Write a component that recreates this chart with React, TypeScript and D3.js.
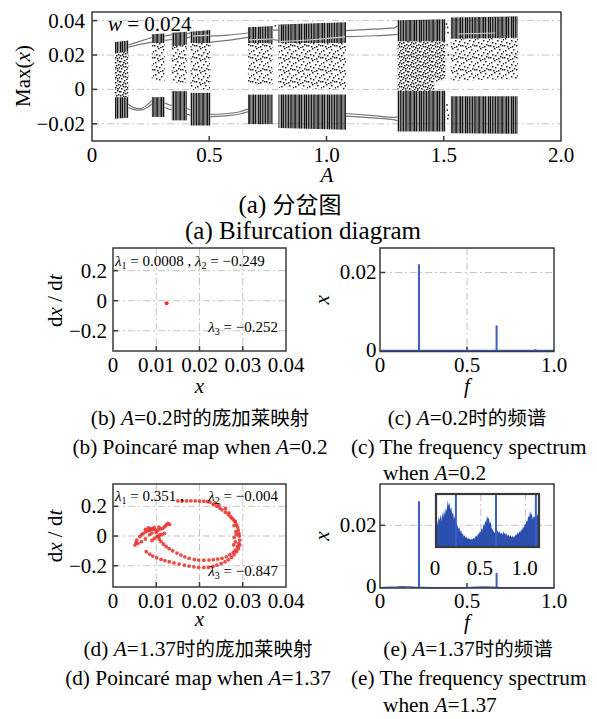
import React from "react";
import * as d3 from "d3";

// ---------------- (a) bifurcation diagram ----------------
const aTickVals = [0, 0.5, 1.0, 1.5, 2.0];
const aTickLabels = ["0", "0.5", "1.0", "1.5", "2.0"];
const aYVals = [0.04, 0.02, 0, -0.02];
const aYLabels = ["0.04", "0.02", "0", "\u22120.02"];

// chaotic windows, each point: [A, low, high]
const bandUpper = [
  [[0.098, 0.021, 0.0275], [0.155, 0.022, 0.0285]],
  [[0.255, 0.027, 0.032], [0.31, 0.027, 0.0325]],
  [[0.34, 0.025, 0.033], [0.404, 0.026, 0.0335]],
  [[0.42, 0.027, 0.0335], [0.505, 0.027, 0.0345]],
  [[0.665, 0.027, 0.0362], [0.77, 0.027, 0.0368]],
  [[0.795, 0.027, 0.0378], [1.083, 0.027, 0.039]],
  [[1.303, 0.028, 0.0402], [1.507, 0.028, 0.0408]],
  [[1.53, 0.0295, 0.0418], [1.816, 0.03, 0.0425]],
];
const bandLower = [
  [[0.098, -0.017, -0.0045], [0.155, -0.0165, -0.0045]],
  [[0.255, -0.016, -0.0045], [0.31, -0.016, -0.0045]],
  [[0.34, -0.018, -0.001], [0.404, -0.018, -0.001]],
  [[0.42, -0.021, -0.002], [0.505, -0.021, -0.002]],
  [[0.665, -0.0202, -0.003], [0.77, -0.0202, -0.003]],
  [[0.795, -0.0225, -0.003], [1.083, -0.0235, -0.003]],
  [[1.303, -0.0245, -0.0008], [1.507, -0.0245, -0.0008]],
  [[1.53, -0.0255, -0.004], [1.816, -0.0258, -0.004]],
];
const bandMidSparse = [
  [[0.255, 0.005, 0.027], [0.31, 0.005, 0.027]],
  [[0.34, 0.004, 0.025], [0.404, 0.004, 0.026]],
  [[0.42, 0.0, 0.027], [0.505, 0.0, 0.027]],
  [[0.665, 0.003, 0.027], [0.77, 0.003, 0.027]],
  [[0.795, 0.001, 0.027], [1.083, 0.0, 0.027]],
  [[1.53, 0.005, 0.0295], [1.816, 0.006, 0.03]],
];
const bandMidDense = [
  [[0.098, -0.0045, 0.021], [0.155, -0.0045, 0.022]],
  [[1.303, -0.0008, 0.028], [1.46, -0.0008, 0.028]],
  [[1.46, 0.004, 0.028], [1.507, 0.006, 0.028]],
];
const periodicBranches = [
  [[0.155, 0.0245], [0.2, 0.026], [0.255, 0.0275]],
  [[0.155, 0.0258], [0.2, 0.0278], [0.255, 0.0302]],
  [[0.155, -0.0085], [0.176, -0.0106], [0.205, -0.0112], [0.233, -0.0093], [0.255, -0.0064]],
  [[0.155, -0.0105], [0.18, -0.0118], [0.205, -0.0121], [0.233, -0.0108], [0.255, -0.0085]],
  [[0.31, 0.0285], [0.34, 0.029]],
  [[0.31, 0.031], [0.34, 0.0318]],
  [[0.31, -0.008], [0.34, -0.0095]],
  [[0.31, -0.0105], [0.34, -0.012]],
  [[0.404, 0.0298], [0.42, 0.0305]],
  [[0.404, 0.0322], [0.42, 0.033]],
  [[0.404, -0.011], [0.42, -0.012]],
  [[0.404, -0.0145], [0.42, -0.015]],
  [[0.505, 0.031], [0.58, 0.0316], [0.665, 0.0328]],
  [[0.505, 0.0275], [0.58, 0.0285], [0.665, 0.0302]],
  [[0.505, -0.0145], [0.58, -0.014], [0.63, -0.013], [0.665, -0.0115]],
  [[0.505, -0.0158], [0.58, -0.0152], [0.63, -0.0143], [0.665, -0.013]],
  [[0.77, 0.0345], [0.795, 0.0345]],
  [[0.77, 0.029], [0.795, 0.0285]],
  [[1.083, 0.0342], [1.2, 0.035], [1.29, 0.0358], [1.303, 0.037]],
  [[1.083, 0.0307], [1.2, 0.0312], [1.29, 0.0318], [1.303, 0.032]],
  [[1.083, -0.014], [1.2, -0.0152], [1.29, -0.0163], [1.303, -0.016]],
  [[1.083, -0.0155], [1.2, -0.0166], [1.29, -0.0177], [1.303, -0.0182]],
];
const faintBranches = [
  [[0.8, 0.0278], [0.95, 0.029], [1.08, 0.0305]],
  [[0.67, 0.0288], [0.77, 0.0293]],
  [[1.56, 0.0322], [1.72, 0.0328]],
  [[0.43, 0.031], [0.5, 0.0315]],
];
const gapPoints = [
  [1.512, 0.038], [1.516, 0.036], [1.518, 0.033], [1.515, 0.026], [1.52, 0.02],
  [1.515, -0.012], [1.52, -0.015], [1.517, -0.017], [1.514, -0.009], [0.782, 0.037],
];

// ---------------- (b) Poincaré map, A = 0.2 ----------------
const bdTickVals = [0, 0.01, 0.02, 0.03, 0.04];
const bdTickLabels = ["0", "0.01", "0.02", "0.03", "0.04"];
const bdYVals = [0.2, 0, -0.2];
const bdYLabels = ["0.2", "0", "\u22120.2"];
const bPoints = [[0.0124, -0.017]];
const bLambda = ["0.0008", "\u22120.249", "\u22120.252"];

// ---------------- (c) spectrum, A = 0.2 ----------------
const ceTickVals = [0, 0.5, 1.0];
const ceTickLabels = ["0", "0.5", "1.0"];
const cPeakF = [0.224, 0.67, 0.893];
const cPeakAmp = [0.0221, 0.0066, 0.0006];

// ---------------- (d) Poincaré map, A = 1.37 ----------------
const dPoints = [
  [0.015, 0.236], [0.016, 0.237], [0.017, 0.236], [0.018, 0.237], [0.019, 0.236], [0.02, 0.235],
  [0.021, 0.234], [0.0218, 0.232], [0.0224, 0.228], [0.0232, 0.212], [0.024, 0.2], [0.0247, 0.188],
  [0.0252, 0.176], [0.026, 0.16], [0.0267, 0.143], [0.0272, 0.13], [0.0278, 0.11], [0.0283, 0.095],
  [0.0286, 0.075], [0.0288, 0.06], [0.029, 0.04], [0.0291, 0.018], [0.0292, 0.0], [0.0293, -0.027],
  [0.0291, -0.05], [0.0288, -0.07], [0.0283, -0.095], [0.0278, -0.11], [0.027, -0.125], [0.0262, -0.14],
  [0.0252, -0.15], [0.0242, -0.155], [0.0232, -0.159], [0.0222, -0.162], [0.021, -0.163], [0.0198, -0.162],
  [0.0188, -0.158], [0.0176, -0.15], [0.0166, -0.14], [0.0157, -0.128], [0.0148, -0.115], [0.0138, -0.099],
  [0.013, -0.085], [0.0123, -0.072], [0.0117, -0.055], [0.0111, -0.038], [0.0107, -0.02], [0.0104, -0.004],
  [0.0275, 0.12], [0.0282, 0.1], [0.028, 0.07], [0.0284, 0.03], [0.028, -0.01], [0.0283, -0.04],
  [0.0279, -0.06], [0.0285, 0.01], [0.0245, 0.21], [0.026, 0.185], [0.0236, 0.222], [0.0268, 0.155],
  [0.0077, -0.106], [0.0085, -0.122], [0.0092, -0.135], [0.0101, -0.146], [0.0111, -0.157], [0.012, -0.165],
  [0.013, -0.173], [0.0141, -0.181], [0.0153, -0.189], [0.0165, -0.196], [0.0176, -0.202], [0.0187, -0.207],
  [0.0198, -0.211], [0.021, -0.212], [0.0221, -0.211], [0.0231, -0.205], [0.024, -0.196], [0.025, -0.185],
  [0.0259, -0.173], [0.0267, -0.16], [0.0274, -0.144], [0.028, -0.126], [0.0286, -0.106], [0.029, -0.085],
  [0.0293, -0.061],
  [0.0051, -0.061], [0.0053, -0.045], [0.0055, -0.027], [0.0058, -0.049], [0.0062, -0.004], [0.0066, -0.038],
  [0.0066, 0.008], [0.007, 0.018], [0.0075, -0.02], [0.0076, 0.028], [0.0081, 0.036], [0.0086, 0.04],
  [0.0092, 0.045], [0.0098, 0.042], [0.0104, 0.04], [0.011, 0.048], [0.0115, 0.052], [0.012, 0.064],
  [0.0123, 0.074], [0.0127, 0.085], [0.0131, 0.078], [0.0119, 0.018], [0.0113, 0.01], [0.0108, 0.007],
  [0.0102, -0.002], [0.0096, -0.016], [0.009, -0.03], [0.0085, 0.01], [0.009, 0.02], [0.01, 0.025],
  [0.0106, 0.06], [0.0095, 0.058], [0.0088, 0.05], [0.0082, 0.055], [0.0075, 0.045],
];
const dLambda = ["0.351", "\u22120.004", "\u22120.847"];

// ---------------- (e) spectrum, A = 1.37 ----------------
const ePeakF = [0.224, 0.67];
const ePeakAmp = [0.0277, 0.0048];
const eFloorF = [0, 0.05, 0.1, 0.13, 0.16, 0.2, 0.3, 0.4, 0.5, 0.55, 0.6, 0.65, 0.7, 0.8, 0.9, 1.0];
const eFloorAmp = [0.0001, 0.0002, 0.0003, 0.0004, 0.0003, 0.0002, 0.0001, 0.0001, 0.0001, 0.0002, 0.0003, 0.0002, 0.0001, 0.0001, 0.0001, 0.0001];
const insetTickVals = [0, 0.5, 1.0];
const insetTickLabels = ["0", "0.5", "1.0"];
const insetStep = 0.01;
const insetAmp = [
  0.45, 0.52, 0.4, 0.58, 0.5, 0.62, 0.48, 0.66, 0.55, 0.7,
  0.6, 0.74, 0.68, 0.88, 0.78, 0.84, 0.7, 0.76, 0.62, 0.66,
  0.52, 0.58, 0.48, 0.44, 0.4, 0.34, 0.38, 0.28, 0.32, 0.24,
  0.26, 0.2, 0.22, 0.17, 0.2, 0.15, 0.18, 0.14, 0.16, 0.13,
  0.16, 0.14, 0.18, 0.15, 0.2, 0.22, 0.19, 0.26, 0.24, 0.3,
  0.28, 0.36, 0.32, 0.42, 0.4, 0.5, 0.46, 0.6, 0.52, 0.56,
  0.44, 0.48, 0.36, 0.34, 0.3, 0.28, 0.26, 0.3, 0.28, 0.32,
  0.26, 0.3, 0.24, 0.28, 0.22, 0.3, 0.25, 0.27, 0.22, 0.26,
  0.2, 0.24, 0.19, 0.23, 0.18, 0.22, 0.17, 0.21, 0.19, 0.24,
  0.22, 0.28, 0.24, 0.3, 0.27, 0.34, 0.3, 0.38, 0.36, 0.44,
  0.42, 0.5, 0.48, 0.58, 0.56, 0.68, 0.6, 0.64, 0.52, 0.58,
  0.56, 0.6, 0.62, 0.58, 0.64, 0.6,
];
const insetPeakF = [0.222, 0.67, 1.115];

const FONT = "Liberation Serif, Times New Roman, serif";
const CJK = "Noto Sans CJK SC";
const GRID = "#c4c4c4";
const DASH = "7,3,2,3";
const FRAME = "#3a3a3a";
const BLUE = "#3d5fc4";
const RED = "#e8302c";

function Lam({ i }: { i: string }) {
  return (
    <>
      <tspan fontStyle="italic">λ</tspan>
      <tspan fontSize={10} dy={3}>{i}</tspan>
      <tspan dy={-3}>{" = "}</tspan>
    </>
  );
}

export default function App() {
  const xA = d3.scaleLinear().domain([0, 2]).range([92, 561]);
  const yA = d3.scaleLinear().domain([-0.03, 0.045]).range([141, 12]);
  const bandArea = d3
    .area<number[]>()
    .x((d) => xA(d[0]))
    .y0((d) => yA(d[1]))
    .y1((d) => yA(d[2]));
  const branchLine = d3
    .line<number[]>()
    .x((d) => xA(d[0]))
    .y((d) => yA(d[1]))
    .curve(d3.curveMonotoneX);

  const xB = d3.scaleLinear().domain([0, 0.04]).range([113, 286]);
  const yB = d3.scaleLinear().domain([-0.335, 0.351]).range([351, 248]);
  const yD = d3.scaleLinear().domain([-0.343, 0.35]).range([587, 484]);

  const xC = d3.scaleLinear().domain([0, 1]).range([380, 554]);
  const yC = d3.scaleLinear().domain([0, 0.0262]).range([351.5, 248]);
  const yE = d3.scaleLinear().domain([0, 0.0332]).range([588, 484]);
  const xI = d3.scaleLinear().domain([0, 1.15]).range([436, 539]);
  const yI = d3.scaleLinear().domain([0, 1]).range([547, 494]);

  const insetArea = d3
    .area<number>()
    .x((_, i) => xI(i * insetStep))
    .y0(yI(0))
    .y1((d) => yI(d));
  const floorLine = d3
    .line<number>()
    .x((_, i) => xC(eFloorF[i]))
    .y((d) => yE(d));

  const tickFs = 21;
  const capFs = 21.3;
  const capAFs = 25;
  const lamFs = 15;

  const frame = (l: number, t: number, r: number, b: number, sw = 1.5) => (
    <rect x={l} y={t} width={r - l} height={b - t} fill="none" stroke={FRAME} strokeWidth={sw} />
  );

  const poincareAxes = (yS: d3.ScaleLinear<number, number>, top: number, bot: number, labY: number) => (
    <g>
      {bdTickVals.slice(1, 4).map((v) => (
        <line key={"gv" + v} x1={xB(v)} x2={xB(v)} y1={top} y2={bot} stroke={GRID} strokeDasharray={DASH} />
      ))}
      {bdYVals.map((v) => (
        <line key={"gh" + v} x1={113} x2={286} y1={yS(v)} y2={yS(v)} stroke={GRID} strokeDasharray={DASH} />
      ))}
      {bdTickVals.slice(1, 4).map((v) => (
        <line key={"tx" + v} x1={xB(v)} x2={xB(v)} y1={bot} y2={bot - 5} stroke={FRAME} strokeWidth={1.5} />
      ))}
      {bdYVals.map((v) => (
        <line key={"ty" + v} x1={113} x2={118} y1={yS(v)} y2={yS(v)} stroke={FRAME} strokeWidth={1.5} />
      ))}
      {bdTickVals.map((v, i) => (
        <text key={"lx" + v} x={xB(v)} y={labY} textAnchor="middle" fontSize={tickFs}>
          {bdTickLabels[i]}
        </text>
      ))}
      {bdYVals.map((v, i) => (
        <text key={"ly" + v} x={107} y={yS(v) + 7} textAnchor="end" fontSize={tickFs}>
          {bdYLabels[i]}
        </text>
      ))}
      <text transform={`translate(55,${yS(0)}) rotate(-90)`} textAnchor="middle" dominantBaseline="central" fontSize={tickFs}>
        d<tspan fontStyle="italic">x</tspan> / d<tspan fontStyle="italic">t</tspan>
      </text>
    </g>
  );

  const spectrumAxes = (yS: d3.ScaleLinear<number, number>, top: number, bot: number, labY: number, vgrid: boolean) => (
    <g>
      {vgrid && <line x1={xC(0.5)} x2={xC(0.5)} y1={top} y2={bot} stroke={GRID} strokeDasharray={DASH} />}
      <line x1={380} x2={554} y1={yS(0.02)} y2={yS(0.02)} stroke={GRID} strokeDasharray={DASH} />
      <line x1={xC(0.5)} x2={xC(0.5)} y1={bot} y2={bot - 5} stroke={FRAME} strokeWidth={1.5} />
      <line x1={380} x2={385} y1={yS(0.02)} y2={yS(0.02)} stroke={FRAME} strokeWidth={1.5} />
      {ceTickVals.map((v, i) => (
        <text key={"l" + v} x={xC(v)} y={labY} textAnchor="middle" fontSize={tickFs}>
          {ceTickLabels[i]}
        </text>
      ))}
      <text x={376.5} y={yS(0.02) + 7} textAnchor="end" fontSize={tickFs}>0.02</text>
      <text x={376.5} y={bot + 5} textAnchor="end" fontSize={tickFs}>0</text>
      <text transform={`translate(322,${(top + bot) / 2}) rotate(-90)`} textAnchor="middle" dominantBaseline="central" fontSize={tickFs} fontStyle="italic">
        x
      </text>
    </g>
  );

  return (
    <svg width={597} height={719} style={{ position: "absolute", left: 0, top: 0, background: "#fff", fontFamily: FONT }}>
      <defs>
        <pattern id="dense" width={23} height={5} patternUnits="userSpaceOnUse">
          {[[0, 1.2], [1.6, 1.5], [3.6, 0.8], [5, 1.6], [7, 1], [8.6, 1.3], [10.4, 0.7], [11.5, 1.8], [13.8, 1], [15.2, 1.4], [17.1, 0.6], [18.2, 1.7], [20.4, 1.1], [22, 0.7]].map(
            (s, i) => <rect key={i} x={s[0]} y={0} width={s[1]} height={5} fill="#161616" />
          )}
        </pattern>
        <pattern id="sparse" width={14} height={12} patternUnits="userSpaceOnUse">
          {[[1, 2], [5, 7], [9, 1], [12, 9], [3, 10], [7, 4], [11, 5], [2, 6], [8, 10], [4, 0], [10, 8], [13, 3], [6, 11], [0, 9]].map((p, i) => (
            <rect key={i} x={p[0]} y={p[1]} width={1.5} height={1.5} fill="#222" />
          ))}
        </pattern>
        <pattern id="scat" width={12} height={10} patternUnits="userSpaceOnUse">
          {[[0, 1], [2, 4], [4, 0], [5, 6], [7, 2], [9, 8], [10, 4], [1, 8], [3, 2], [6, 9], [8, 5], [11, 1], [3, 6], [9, 0], [5, 3], [0, 5], [7, 7], [11, 7]].map((p, i) => (
            <rect key={i} x={p[0]} y={p[1]} width={1.5} height={1.5} fill="#1a1a1a" />
          ))}
        </pattern>
      </defs>

      {/* ===== (a) ===== */}
      {aYVals.map((v) => (
        <line key={"ag" + v} x1={92} x2={561} y1={yA(v)} y2={yA(v)} stroke={GRID} strokeDasharray={DASH} />
      ))}
      {bandMidSparse.map((b, i) => <path key={"ms" + i} d={bandArea(b) || ""} fill="url(#sparse)" />)}
      {bandMidDense.map((b, i) => <path key={"md" + i} d={bandArea(b) || ""} fill="url(#scat)" />)}
      {bandUpper.map((b, i) => <path key={"bu" + i} d={bandArea(b) || ""} fill="url(#dense)" />)}
      {bandLower.map((b, i) => <path key={"bl" + i} d={bandArea(b) || ""} fill="url(#dense)" />)}
      {periodicBranches.map((b, i) => (
        <path key={"pb" + i} d={branchLine(b) || ""} fill="none" stroke="#777" strokeWidth={1.2} />
      ))}
      {faintBranches.map((b, i) => (
        <path key={"fb" + i} d={branchLine(b) || ""} fill="none" stroke="#cfcfcf" strokeWidth={1.2} />
      ))}
      {gapPoints.map((p, i) => (
        <rect key={"gp" + i} x={xA(p[0]) - 0.8} y={yA(p[1]) - 0.8} width={1.6} height={1.6} fill="#333" />
      ))}
      {frame(92, 12, 561, 141)}
      {aTickVals.slice(1, 4).map((v) => (
        <line key={"at" + v} x1={xA(v)} x2={xA(v)} y1={141} y2={136} stroke={FRAME} strokeWidth={1.5} />
      ))}
      {aYVals.map((v) => (
        <line key={"ayt" + v} x1={92} x2={97} y1={yA(v)} y2={yA(v)} stroke={FRAME} strokeWidth={1.5} />
      ))}
      {aTickVals.map((v, i) => (
        <text key={"axl" + v} x={xA(v)} y={162} textAnchor="middle" fontSize={tickFs}>
          {aTickLabels[i]}
        </text>
      ))}
      {aYVals.map((v, i) => (
        <text key={"ayl" + v} x={85} y={yA(v) + 7} textAnchor="end" fontSize={tickFs}>
          {aYLabels[i]}
        </text>
      ))}
      <text x={108} y={31} fontSize={tickFs}>
        <tspan fontStyle="italic">w</tspan> = 0.024
      </text>
      <text transform="translate(23,76) rotate(-90)" textAnchor="middle" dominantBaseline="central" fontSize={tickFs}>
        Max(<tspan fontStyle="italic">x</tspan>)
      </text>
      <text x={327} y={182} textAnchor="middle" fontSize={tickFs} fontStyle="italic">A</text>
      <text x={290} y={213} textAnchor="middle" fontSize={capAFs}>
        (a) <tspan fontFamily={CJK} fontSize={23}>分岔图</tspan>
      </text>
      <text x={303} y={239} textAnchor="middle" fontSize={capAFs}>(a) Bifurcation diagram</text>

      {/* ===== (b) ===== */}
      {poincareAxes(yB, 248, 351, 372)}
      {bPoints.map((p, i) => (
        <circle key={"bp" + i} cx={xB(p[0])} cy={yB(p[1])} r={2} fill={RED} />
      ))}
      {frame(113, 248, 286, 351)}
      <text x={115} y={266} fontSize={lamFs}>
        <Lam i="1" />
        {bLambda[0] + " , "}
        <Lam i="2" />
        {bLambda[1]}
      </text>
      <text x={278} y={332} fontSize={lamFs} textAnchor="end">
        <Lam i="3" />
        {bLambda[2]}
      </text>
      <text x={xB(0.02)} y={393} textAnchor="middle" fontSize={tickFs} fontStyle="italic">x</text>

      {/* ===== (c) ===== */}
      {spectrumAxes(yC, 248, 351.5, 372, true)}
      <line x1={xC(0)} x2={xC(1)} y1={yC(0) - 1} y2={yC(0) - 1} stroke={BLUE} strokeWidth={1.5} />
      {cPeakF.map((f, i) => (
        <line key={"cp" + i} x1={xC(f)} x2={xC(f)} y1={yC(0)} y2={yC(cPeakAmp[i])} stroke={BLUE} strokeWidth={2} />
      ))}
      {frame(380, 248, 554, 351.5)}
      <text x={xC(0.5)} y={393} textAnchor="middle" fontSize={tickFs} fontStyle="italic">f</text>

      {/* captions b/c */}
      <text x={200} y={425} textAnchor="middle" fontSize={capFs}>
        (b) <tspan fontStyle="italic">A</tspan>=0.2<tspan fontFamily={CJK} fontSize={19.5}>时的庞加莱映射</tspan>
      </text>
      <text x={467} y={425} textAnchor="middle" fontSize={capFs}>
        (c) <tspan fontStyle="italic">A</tspan>=0.2<tspan fontFamily={CJK} fontSize={19.5}>时的频谱</tspan>
      </text>
      <text x={200} y={454} textAnchor="middle" fontSize={capFs}>
        (b) Poincaré map when <tspan fontStyle="italic">A</tspan>=0.2
      </text>
      <text x={351} y={454} fontSize={capFs}>(c) The frequency spectrum</text>
      <text x={383} y={480} fontSize={capFs}>
        when <tspan fontStyle="italic">A</tspan>=0.2
      </text>

      {/* ===== (d) ===== */}
      {poincareAxes(yD, 484, 587, 608)}
      {dPoints.map((p, i) => (
        <circle key={"dp" + i} cx={xB(p[0])} cy={yD(p[1])} r={1.9} fill={RED} fillOpacity={0.85} />
      ))}
      {frame(113, 484, 286, 587)}
      <text x={115} y={501} fontSize={lamFs}>
        <Lam i="1" />
        {dLambda[0] + " ,"}
      </text>
      <text x={278} y={501} fontSize={lamFs} textAnchor="end">
        <Lam i="2" />
        {dLambda[1]}
      </text>
      <text x={278} y={576} fontSize={lamFs} textAnchor="end">
        <Lam i="3" />
        {dLambda[2]}
      </text>
      <text x={xB(0.02)} y={626} textAnchor="middle" fontSize={tickFs} fontStyle="italic">x</text>

      {/* ===== (e) ===== */}
      {spectrumAxes(yE, 484, 588, 608, false)}
      <path d={floorLine(eFloorAmp) || ""} fill="none" stroke={BLUE} strokeWidth={1.5} />
      {ePeakF.map((f, i) => (
        <line key={"ep" + i} x1={xC(f)} x2={xC(f)} y1={yE(0)} y2={yE(ePeakAmp[i])} stroke={BLUE} strokeWidth={2} />
      ))}
      {frame(380, 484, 554, 588)}
      <rect x={436} y={494} width={103} height={53} fill="#fff" />
      {[0.5, 1.0].map((v) => (
        <line key={"ig" + v} x1={xI(v)} x2={xI(v)} y1={494} y2={547} stroke={GRID} strokeDasharray={DASH} />
      ))}
      <line x1={436} x2={539} y1={yE(0.02)} y2={yE(0.02)} stroke={GRID} strokeDasharray={DASH} />
      <path d={insetArea(insetAmp) || ""} fill="#2a4fae" />
      {insetPeakF.map((f, i) => (
        <line key={"ip" + i} x1={xI(f)} x2={xI(f)} y1={547} y2={494} stroke="#3a5fc8" strokeWidth={2} />
      ))}
      {frame(436, 494, 539, 547, 2.2)}
      {insetTickVals.map((v, i) => (
        <text key={"il" + v} x={xI(v) - 1} y={575} textAnchor="middle" fontSize={tickFs}>
          {insetTickLabels[i]}
        </text>
      ))}
      <text x={xC(0.5)} y={629} textAnchor="middle" fontSize={tickFs} fontStyle="italic">f</text>

      {/* captions d/e */}
      <text x={198} y={656} textAnchor="middle" fontSize={capFs}>
        (d) <tspan fontStyle="italic">A</tspan>=1.37<tspan fontFamily={CJK} fontSize={19.5}>时的庞加莱映射</tspan>
      </text>
      <text x={468} y={656} textAnchor="middle" fontSize={capFs}>
        (e) <tspan fontStyle="italic">A</tspan>=1.37<tspan fontFamily={CJK} fontSize={19.5}>时的频谱</tspan>
      </text>
      <text x={198} y={685} textAnchor="middle" fontSize={capFs}>
        (d) Poincaré map when <tspan fontStyle="italic">A</tspan>=1.37
      </text>
      <text x={351} y={685} fontSize={capFs}>(e) The frequency spectrum</text>
      <text x={383} y={712} fontSize={capFs}>
        when <tspan fontStyle="italic">A</tspan>=1.37
      </text>
    </svg>
  );
}
